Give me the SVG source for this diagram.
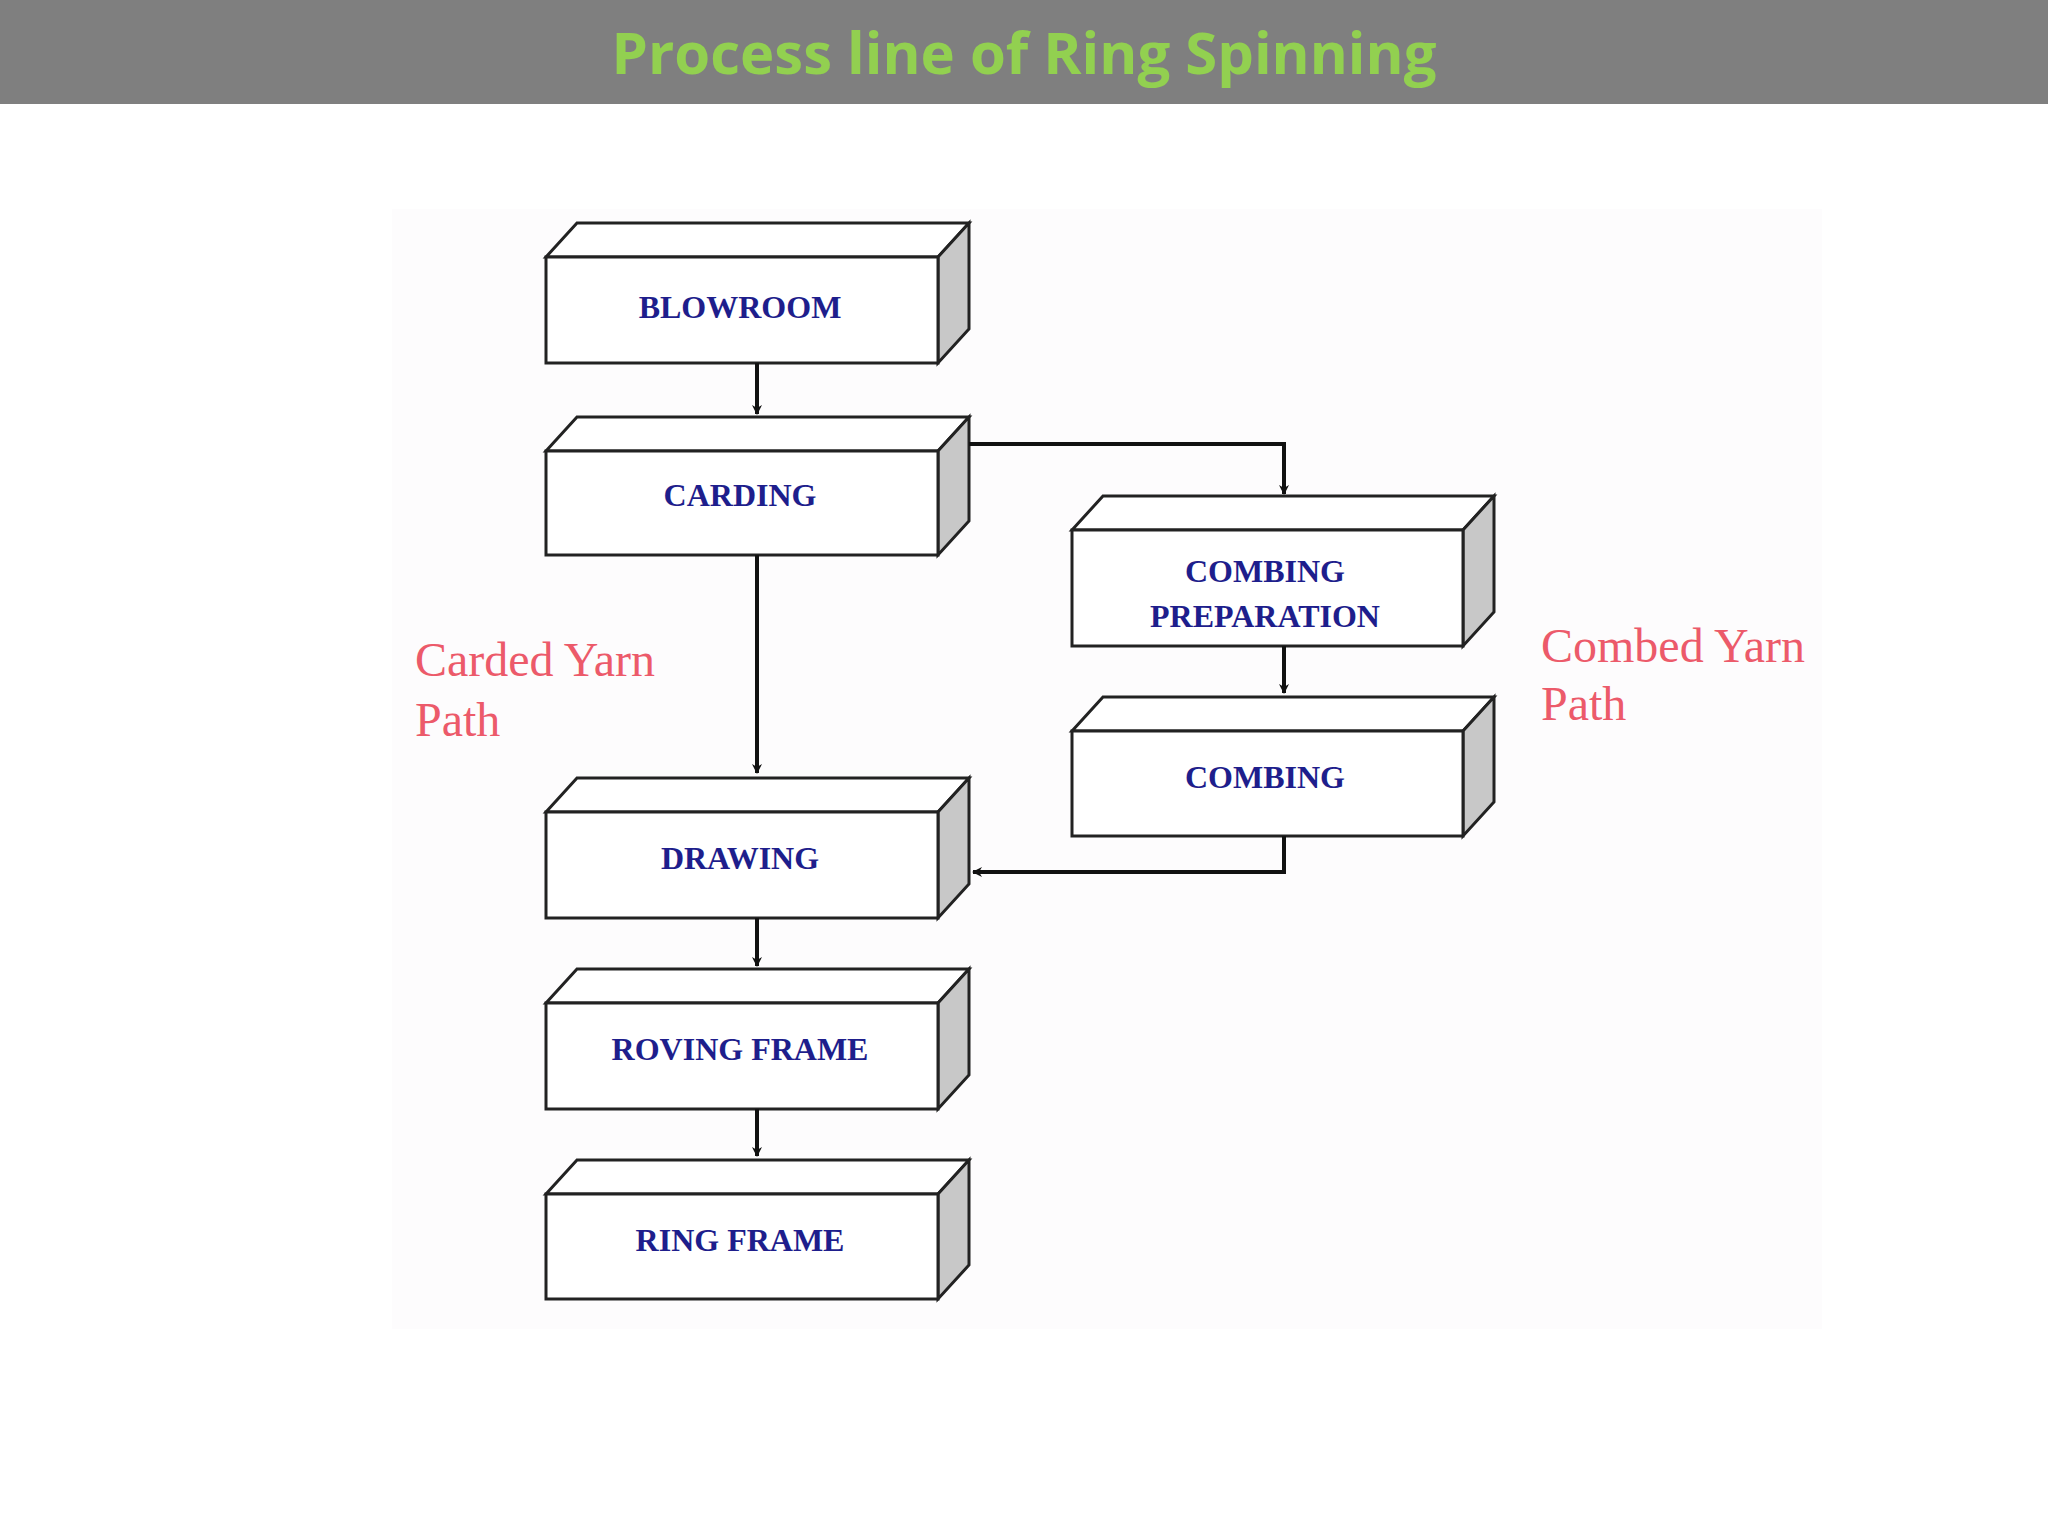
<svg xmlns="http://www.w3.org/2000/svg" width="2048" height="1536" viewBox="0 0 2048 1536">
<style>
.f{fill:#fff;stroke:#222;stroke-width:3}
.s{fill:#c8c8c8;stroke:#222;stroke-width:3}
.t{font-family:"Liberation Serif",serif;font-weight:bold;font-size:32px;fill:#1e1e8c;text-anchor:middle}
.r{font-family:"Liberation Serif",serif;font-size:48px;fill:#ec5a6a}
.c{fill:none;stroke:#111;stroke-width:4}
</style>
<defs><marker id="a" markerWidth="10" markerHeight="10" refX="9" refY="5" orient="auto" markerUnits="userSpaceOnUse" viewBox="0 0 10 10"><path d="M0,0 L10,5 L0,10 L3,5 Z" fill="#111"/></marker></defs>
<rect width="2048" height="1536" fill="#fff"/>
<rect width="2048" height="104" fill="#7f7f7f"/>
<text x="1024" y="74" font-family="'Open Sans',sans-serif" font-weight="bold" font-size="58" fill="#92d050" text-anchor="middle">Process line of Ring Spinning</text>
<rect x="392" y="209" width="1430" height="1120" fill="#fdfcfd"/>
<g id="blowroom"><path class="f" d="M546,257 L577,223 L969,223 L938,257 Z"/><path class="s" d="M938,257 L969,223 L969,329 L938,363 Z"/><rect class="f" x="546" y="257" width="392" height="106"/><text class="t" x="740" y="318">BLOWROOM</text></g>
<g id="carding"><path class="f" d="M546,451 L577,417 L969,417 L938,451 Z"/><path class="s" d="M938,451 L969,417 L969,521 L938,555 Z"/><rect class="f" x="546" y="451" width="392" height="104"/><text class="t" x="740" y="506">CARDING</text></g>
<g id="combprep"><path class="f" d="M1072,530 L1103,496 L1494,496 L1463,530 Z"/><path class="s" d="M1463,530 L1494,496 L1494,612 L1463,646 Z"/><rect class="f" x="1072" y="530" width="391" height="116"/><text class="t" x="1265" y="582">COMBING</text><text class="t" x="1265" y="627">PREPARATION</text></g>
<g id="combing"><path class="f" d="M1072,731 L1103,697 L1494,697 L1463,731 Z"/><path class="s" d="M1463,731 L1494,697 L1494,802 L1463,836 Z"/><rect class="f" x="1072" y="731" width="391" height="105"/><text class="t" x="1265" y="788">COMBING</text></g>
<g id="drawing"><path class="f" d="M546,812 L577,778 L969,778 L938,812 Z"/><path class="s" d="M938,812 L969,778 L969,884 L938,918 Z"/><rect class="f" x="546" y="812" width="392" height="106"/><text class="t" x="740" y="869">DRAWING</text></g>
<g id="roving"><path class="f" d="M546,1003 L577,969 L969,969 L938,1003 Z"/><path class="s" d="M938,1003 L969,969 L969,1075 L938,1109 Z"/><rect class="f" x="546" y="1003" width="392" height="106"/><text class="t" x="740" y="1060">ROVING FRAME</text></g>
<g id="ring"><path class="f" d="M546,1194 L577,1160 L969,1160 L938,1194 Z"/><path class="s" d="M938,1194 L969,1160 L969,1265 L938,1299 Z"/><rect class="f" x="546" y="1194" width="392" height="105"/><text class="t" x="740" y="1251">RING FRAME</text></g>
<g id="connectors">
<path class="c" d="M757,363 V414" marker-end="url(#a)"/>
<path class="c" d="M757,555 V773" marker-end="url(#a)"/>
<path class="c" d="M757,918 V966" marker-end="url(#a)"/>
<path class="c" d="M757,1109 V1156" marker-end="url(#a)"/>
<path class="c" d="M969,444 H1284 V494" marker-end="url(#a)"/>
<path class="c" d="M1284,646 V693" marker-end="url(#a)"/>
<path class="c" d="M1284,836 V872 H973" marker-end="url(#a)"/>
</g>
<text class="r" x="415" y="676">Carded Yarn</text><text class="r" x="415" y="736">Path</text>
<text class="r" x="1541" y="662">Combed Yarn</text><text class="r" x="1541" y="720">Path</text>
</svg>
